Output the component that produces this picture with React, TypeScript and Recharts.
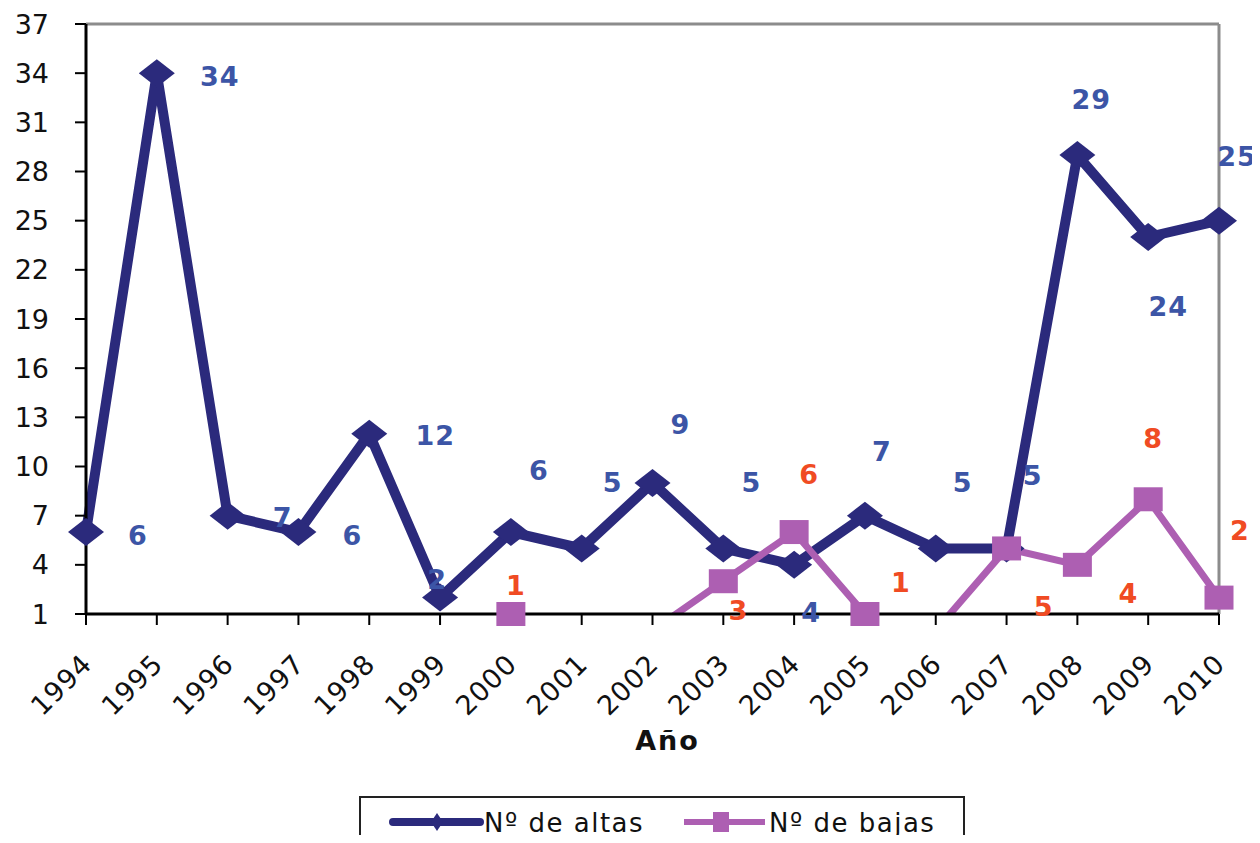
import React from 'react';
import { LineChart, Line, XAxis, YAxis, ReferenceLine, LabelList, Legend, Label } from 'recharts';

const years = ['1994', '1995', '1996', '1997', '1998', '1999', '2000', '2001', '2002', '2003', '2004', '2005', '2006', '2007', '2008', '2009', '2010'];
const altas = [6, 34, 7, 6, 12, 2, 6, 5, 9, 5, 4, 7, 5, 5, 29, 24, 25];
const bajas: (number | null)[] = [null, null, null, null, null, null, 1, 0, 0, 3, 6, 1, 0, 5, 4, 8, 2];
const yTicks = [1, 4, 7, 10, 13, 16, 19, 22, 25, 28, 31, 34, 37];
const seriesNames = { altas: 'Nº de altas', bajas: 'Nº de bajas' };
const xTitle = 'Año';

// label placement (layout, not data)
const altasLabelOffsets: [number, number][] = [
  [52, 3], [63, 3], [55, 2], [54, 3], [66, 2], [-3, -18], [28, -62], [31, -66], [28, -59],
  [28, -66], [17, 47], [17, -64], [27, -66], [26, -73], [14, -56], [20, 69], [18, -64],
];
const bajasLabelOffsets: ([number, number] | null)[] = [
  null, null, null, null, null, null, [5, -29], null, null, [15, 29], [15, -58], [36, -32],
  null, [37, 58], [51, 28], [5, -61], [21, -67],
];

const data = years.map((year, i) => ({ year, altas: altas[i], bajas: bajas[i] }));

const C_ALTAS = '#2b2a7c';
const C_BAJAS = '#ad5fb2';
const C_ALTAS_LABEL = '#3c55a6';
const C_BAJAS_LABEL = '#f04b23';
const FONT = '"DejaVu Sans", Verdana, sans-serif';

const getPt = (p: any) => {
  const vb = p.viewBox || {};
  const x = typeof vb.x === 'number' ? vb.x + (vb.width || 0) / 2 : p.x;
  const y = typeof vb.y === 'number' ? vb.y + (vb.height || 0) / 2 : p.y;
  let idx = typeof p.index === 'number' ? p.index : -1;
  if (idx < 0 && p.payload) idx = years.indexOf(p.payload.year);
  return { x, y, idx, value: p.value };
};

const DiamondMark = (p: any) => {
  const { x, y, value } = getPt(p);
  if (value == null || value < 1) return null;
  const hw = 18, hh = 14;
  return <polygon points={`${x},${y - hh} ${x + hw},${y} ${x},${y + hh} ${x - hw},${y}`} fill={C_ALTAS} />;
};

const SquareMark = (p: any) => {
  const { x, y, value } = getPt(p);
  if (value == null || value < 1) return null;
  const w = 29, h = 24;
  return <rect x={x - w / 2} y={y - h / 2} width={w} height={h} fill={C_BAJAS} />;
};

const makeValueLabel = (offsets: ([number, number] | null)[], color: string) => (p: any) => {
  const { x, y, idx, value } = getPt(p);
  if (value == null || value < 1) return null;
  const off = offsets[idx];
  if (!off) return null;
  return (
    <text x={x + off[0]} y={y + off[1]} textAnchor="middle" dy="0.36em" fill={color}
      fontFamily={FONT} fontWeight="bold" fontSize={27} letterSpacing={1}>
      {value}
    </text>
  );
};

const XTick = (p: any) => {
  const { x, y, payload } = p;
  const ax = x + 1;
  const ay = y + 34;
  return (
    <text x={ax} y={ay} dy="0.35em" textAnchor="end" transform={`rotate(-45 ${ax} ${ay})`}
      fill="#111" fontFamily={FONT} fontSize={27} letterSpacing={1}>
      {payload.value}
    </text>
  );
};

const LegendBox = () => (
  <div style={{ width: 606, height: 60, border: '2px solid #222', boxSizing: 'border-box', background: '#fff' }}>
    <svg width={602} height={56} style={{ display: 'block' }}>
      <line x1={32} y1={24} x2={119} y2={24} stroke={C_ALTAS} strokeWidth={8} strokeLinecap="round" />
      <polygon points="76,15 82,24 76,33 70,24" fill={C_ALTAS} />
      <text x={123} y={34} fontFamily={FONT} fontSize={26} letterSpacing={1.5} fill="#111">{seriesNames.altas}</text>
      <line x1={323} y1={24} x2={404} y2={24} stroke={C_BAJAS} strokeWidth={6} />
      <rect x={352} y={14} width={16} height={20} fill={C_BAJAS} />
      <text x={408} y={34} fontFamily={FONT} fontSize={26} letterSpacing={1.5} fill="#111">{seriesNames.bajas}</text>
    </svg>
  </div>
);

const XTitle = (p: any) => {
  const vb = p.viewBox || {};
  const cx = vb.x + vb.width / 2 + 15;
  return (
    <text x={cx} y={750} textAnchor="middle" fontFamily={FONT} fontWeight="bold" fontSize={27} letterSpacing={2} fill="#111">
      {xTitle}
    </text>
  );
};

export default function App() {
  return (
    <div style={{ margin: -8, width: 1260, height: 843, overflow: 'hidden', background: '#fff', position: 'relative' }}>
      <LineChart width={1260} height={843} data={data} margin={{ top: 24, right: 41, bottom: 0, left: 0 }}>
        <XAxis dataKey="year" interval={0} height={229} tickSize={11} tickMargin={0} tick={<XTick />}
          axisLine={{ stroke: '#000', strokeWidth: 3 }} tickLine={{ stroke: '#000', strokeWidth: 2 }}>
          <Label content={<XTitle />} />
        </XAxis>
        <YAxis yAxisId="main" domain={[1, 37]} ticks={yTicks} allowDataOverflow interval={0} width={86} tickSize={11}
          tickMargin={26} tick={{ fontSize: 27, fill: '#111', fontFamily: FONT }}
          axisLine={{ stroke: '#000', strokeWidth: 3 }} tickLine={{ stroke: '#000', strokeWidth: 2 }} />
        <ReferenceLine yAxisId="main" y={37} stroke="#8c8c8c" strokeWidth={3} />
        <ReferenceLine yAxisId="main" x="2010" stroke="#8c8c8c" strokeWidth={3} />
        <Legend layout="horizontal" verticalAlign="middle" align="center" content={<LegendBox />}
          wrapperStyle={{ position: 'absolute', left: 359, top: 796, width: 606, height: 60 }} />
        <Line yAxisId="main" dataKey="altas" name={seriesNames.altas} stroke={C_ALTAS} strokeWidth={10}
          dot={false} activeDot={false} isAnimationActive={false}>
          <LabelList dataKey="altas" content={<DiamondMark />} />
          <LabelList dataKey="altas" content={makeValueLabel(altasLabelOffsets, C_ALTAS_LABEL)} />
        </Line>
        <Line yAxisId="main" dataKey="bajas" name={seriesNames.bajas} stroke={C_BAJAS} strokeWidth={7}
          dot={false} activeDot={false} isAnimationActive={false}>
          <LabelList dataKey="bajas" content={<SquareMark />} />
          <LabelList dataKey="bajas" content={makeValueLabel(bajasLabelOffsets, C_BAJAS_LABEL)} />
        </Line>
      </LineChart>
    </div>
  );
}
